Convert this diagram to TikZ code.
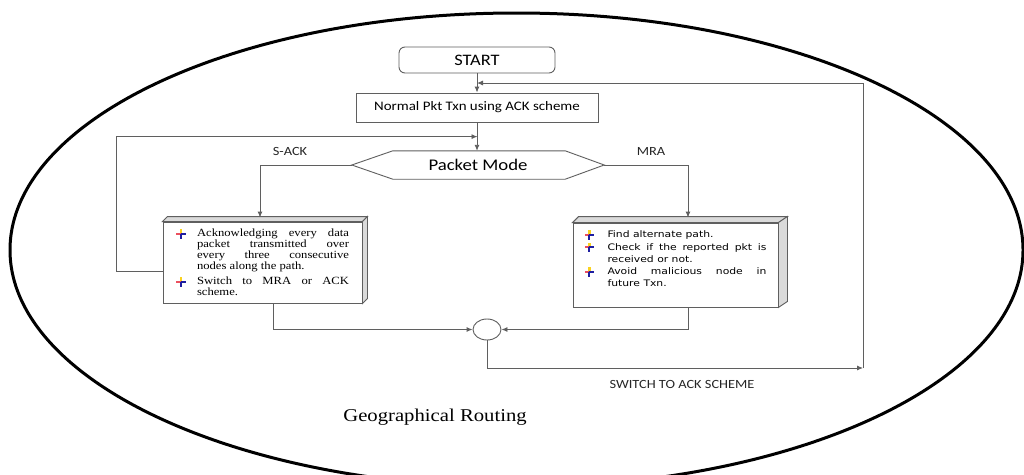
\documentclass[tikz,border=0pt]{standalone}
\usepackage{fontspec}
\usepackage{tikz}
\usetikzlibrary{arrows.meta,calc,positioning,shapes.geometric}
\setmainfont{Liberation Serif}
\newfontfamily\calibri[FakeStretch=1.15]{Carlito}
\newfontfamily\timesw[FakeStretch=1.15]{Liberation Serif}
\newfontfamily\verdana[FakeStretch=1.2]{DejaVu Sans}
\definecolor{lineg}{RGB}{95,95,95}
\definecolor{sideg}{RGB}{218,218,218}
\definecolor{addblue}{RGB}{30,30,160}
\definecolor{addred}{RGB}{235,80,95}
\definecolor{addyellow}{RGB}{250,210,30}

% bullet like the Word "add" glyph
\newcommand{\addmark}{\tikz[baseline=-3pt,x=1pt,y=1pt]{%
  \fill[addyellow] (-1.2,0) rectangle (1.2,4.8);
  \fill[addred] (-4.8,-1) rectangle (0,1);
  \fill[addblue] (0,-1.1) rectangle (4.8,1.1);
  \fill[addblue] (-1.1,-4.8) rectangle (1.1,0);}}

\newenvironment{addlist}[2]{%
  \begin{list}{\addmark}{%
    \setlength{\leftmargin}{#1}\setlength{\labelwidth}{#1}%
    \setlength{\labelsep}{0pt}\setlength{\itemsep}{#2}%
    \setlength{\topsep}{0pt}\setlength{\parsep}{0pt}%
    \setlength{\partopsep}{0pt}\setlength{\itemindent}{0pt}%
    \renewcommand{\makelabel}[1]{##1\hfil}}}%
  {\end{list}}

\begin{document}
\begin{tikzpicture}[x=1pt,y=-1pt,>={Latex[length=6pt,width=5pt]}]
  \tikzset{
    box/.style={draw=lineg,line width=0.9pt,fill=white,inner sep=0pt,font={\calibri\fontsize{13}{15}\selectfont}},
    cube/.style={draw=lineg,line width=0.9pt,fill=white,inner sep=0pt},
    lbl/.style={inner sep=0pt,font={\calibri\fontsize{12.5}{14}\selectfont},text=black!85},
    conn/.style={draw=lineg,line width=0.9pt},
    side/.style={draw=lineg,line width=0.9pt,fill=sideg}
  }
  \clip (0,0) rectangle (1024,474);
  \fill[white] (0,0) rectangle (1024,474);
  \draw[line width=3pt] (516.5,250) ellipse [x radius=506.5, y radius=237];

  \node[box,rounded corners=6pt,minimum width=156,minimum height=26,font={\calibri\fontsize{16}{18}\selectfont}] (start) at (477,60) {START};
  \node[box,minimum width=242,minimum height=29] (txn) at (477,107.5) {Normal Pkt Txn using ACK scheme};
  \node[inner sep=0pt,minimum width=252,minimum height=28,font={\calibri\fontsize{16.3}{18}\selectfont}] (mode) at (478,165) {Packet Mode};
  \draw[conn] (mode.west) -- ($(mode.north west)+(41,0)$) -- ($(mode.north east)+(-39,0)$)
    -- (mode.east) -- ($(mode.south east)+(-39,0)$) -- ($(mode.south west)+(41,0)$) -- cycle;

  % left cube
  \node[cube,minimum width=199,minimum height=81] (lbox) at (262.5,262.5) {%
    \begin{minipage}{173pt}\timesw\fontsize{11}{11}\selectfont
    \begin{addlist}{21pt}{4pt}
      \item Acknowledging every data\linebreak packet transmitted over\linebreak every three consecutive\linebreak nodes along the path.
      \item Switch to MRA or ACK\linebreak scheme.
    \end{addlist}
    \end{minipage}};
  \draw[side] (lbox.north west) -- ++(5,-5) -- ($(lbox.north east)+(5,-5)$) -- (lbox.north east) -- cycle;
  \draw[side] (lbox.north east) -- ++(5,-5) -- ($(lbox.south east)+(5,-5)$) -- (lbox.south east) -- cycle;

  % right cube
  \node[cube,minimum width=205,minimum height=84] (rbox) at (675.5,265) {%
    \begin{minipage}[c][78pt][t]{182pt}\verdana\fontsize{9}{12}\selectfont
    \vspace*{4pt}
    \begin{addlist}{23pt}{0.5pt}
      \item Find alternate path.
      \item Check if the reported pkt is\linebreak received or not.
      \item Avoid malicious node in\linebreak future Txn.
    \end{addlist}
    \end{minipage}};
  \draw[side] (rbox.north west) -- ++(6,-6) -- ($(rbox.north east)+(9,-6)$) -- (rbox.north east) -- cycle;
  \draw[side] (rbox.north east) -- ++(9,-6) -- ($(rbox.south east)+(9,-6)$) -- (rbox.south east) -- cycle;

  \node[draw=lineg,line width=0.9pt,ellipse,inner sep=0pt,minimum width=28,minimum height=21] (join) at (487,329.5) {};

  \coordinate (back) at ($(start.south)!0.5!(txn.north)$);
  \coordinate (mid) at ($(txn.south)!0.5!(mode.north)$);
  \coordinate (turn) at (863,368);

  \node[lbl] (sack) at (290,151) {S-ACK};
  \node[lbl] (mra) at (651,151) {MRA};
  \node[lbl] (swl) at (682,384) {SWITCH TO ACK SCHEME};
  \node[inner sep=0pt,font={\timesw\fontsize{18}{20}\selectfont}] (geo) at (435,417) {Geographical Routing};

  \draw[conn,->] (start) -- (txn);
  \draw[conn,->] (txn.south) -- (txn.south |- mode.north);
  \draw[conn,->] (mode.west) -| ([xshift=-2.5pt,yshift=4pt]lbox.north);
  \draw[conn,->] (mode.east) -| ([xshift=12.5pt,yshift=5pt]rbox.north);
  \draw[conn,->] ([yshift=-8.5pt]lbox.west) -- ++(-46,0) |- (mid);
  \draw[conn,->] ([xshift=10.5pt]lbox.south) |- (join.west);
  \draw[conn,->] ([xshift=12.5pt]rbox.south) |- (join.east);
  \draw[conn,->] (join.south) |- (turn);
  \draw[conn,->] (turn) |- (back);
\end{tikzpicture}
\end{document}
